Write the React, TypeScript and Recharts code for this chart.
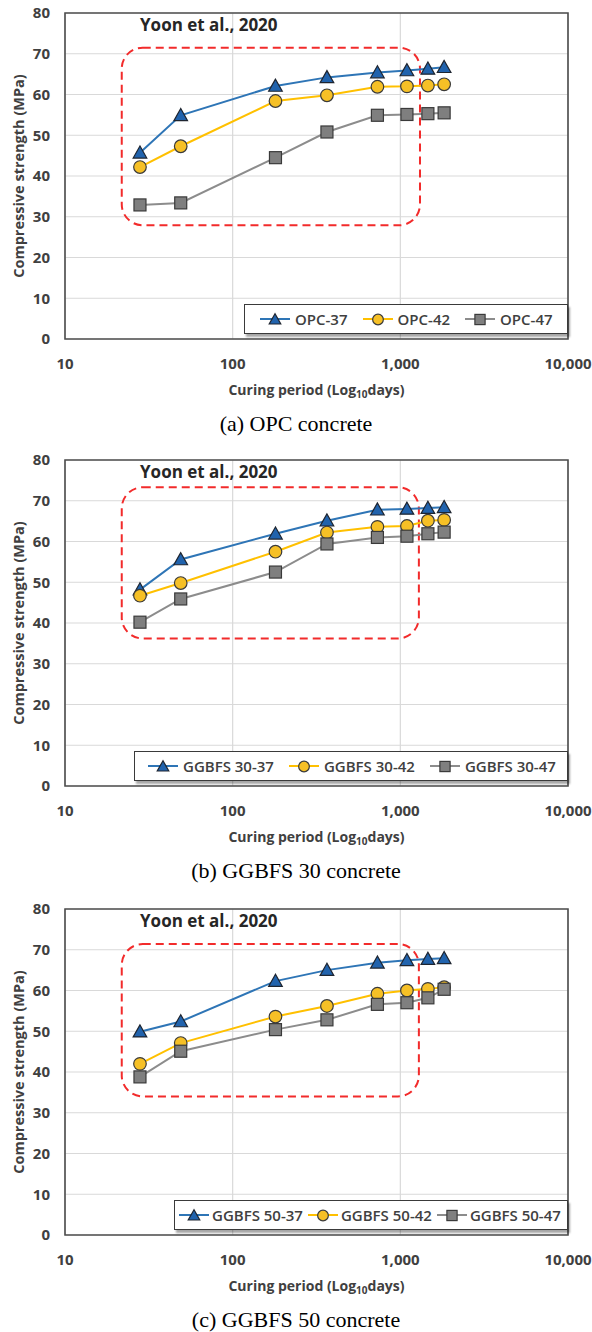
import { LineChart, Line, XAxis, YAxis, CartesianGrid, ReferenceArea, Legend } from 'recharts'

const DAYS = [28, 49, 180, 365, 730, 1095, 1460, 1825]
const X_TICKS = [10, 100, 1000, 10000]
const Y_TICKS = [0, 10, 20, 30, 40, 50, 60, 70, 80]

const OPC_37 = [45.7, 54.9, 62.1, 64.2, 65.4, 65.9, 66.3, 66.7]
const OPC_42 = [42.2, 47.3, 58.4, 59.8, 61.9, 62.0, 62.2, 62.5]
const OPC_47 = [32.9, 33.4, 44.5, 50.8, 54.9, 55.1, 55.3, 55.5]

const G30_37 = [48.2, 55.6, 61.9, 65.1, 67.8, 68.0, 68.2, 68.4]
const G30_42 = [46.7, 49.8, 57.5, 62.2, 63.6, 63.8, 65.1, 65.3]
const G30_47 = [40.2, 45.9, 52.5, 59.4, 61.0, 61.3, 61.9, 62.3]

const G50_37 = [49.9, 52.4, 62.3, 65.0, 66.8, 67.4, 67.7, 67.9]
const G50_42 = [42.0, 47.1, 53.6, 56.2, 59.2, 60.0, 60.4, 60.8]
const G50_47 = [38.8, 45.1, 50.4, 52.8, 56.6, 57.0, 58.2, 60.3]

const NAMES_A = ['OPC-37', 'OPC-42', 'OPC-47']
const NAMES_B = ['GGBFS 30-37', 'GGBFS 30-42', 'GGBFS 30-47']
const NAMES_C = ['GGBFS 50-37', 'GGBFS 50-42', 'GGBFS 50-47']

// dashed highlight region (days, MPa)
const BOX_A = { x1: 21.8, x2: 1310, y1: 27.9, y2: 71.5 }
const BOX_B = { x1: 21.8, x2: 1290, y1: 36.2, y2: 73.3 }
const BOX_C = { x1: 21.8, x2: 1290, y1: 34.0, y2: 71.4 }

const SOURCE = 'Yoon et al., 2020'

const FONT = '"Open Sans", "Noto Sans", sans-serif'
const TXT = '#404040'

const build = (a: number[], b: number[], c: number[]) =>
  DAYS.map((d, i) => ({ day: d, s0: a[i], s1: b[i], s2: c[i] }))

const LINE_COLORS = ['#2E75B6', '#FFC000', '#8C8C8C']

function Marker({ kind, cx, cy, s = 1 }: { kind: number; cx: number; cy: number; s?: number }) {
  if (kind === 0) {
    const h = 6.8 * s
    return (
      <polygon
        points={`${cx},${cy - h} ${cx - h},${cy + h * 0.78} ${cx + h},${cy + h * 0.78}`}
        fill="#2163AD"
        stroke="#1E2530"
        strokeWidth={1.2}
      />
    )
  }
  if (kind === 1) {
    return <circle cx={cx} cy={cy} r={6.3 * s} fill="#F6C026" stroke="#3A3A3A" strokeWidth={1.2} />
  }
  const h = 6 * s
  return <rect x={cx - h} y={cy - h} width={h * 2} height={h * 2} fill="#7F7F7F" stroke="#3A3A3A" strokeWidth={1.2} />
}

const dotFor = (kind: number) => (p: any) => (
  <g key={`d${kind}-${p.index}`}>
    <Marker kind={kind} cx={p.cx} cy={p.cy} />
  </g>
)

interface LegendCfg {
  left: number
  width: number
  padLeft: number
  iconGap: number
  itemGap: number
}

function LegendBox({ names, cfg }: { names: string[]; cfg: LegendCfg }) {
  return (
    <div
      style={{
        boxSizing: 'border-box',
        width: cfg.width,
        height: 30,
        border: '1.5px solid #3a3a3a',
        background: '#fff',
        boxShadow: '2px 3px 2px rgba(0,0,0,0.35)',
        display: 'flex',
        alignItems: 'center',
        paddingLeft: cfg.padLeft,
        whiteSpace: 'nowrap',
        overflow: 'hidden',
        fontFamily: FONT,
        fontSize: 15,
        fontWeight: 600,
        color: TXT,
      }}
    >
      {names.map((n, i) => (
        <div key={n} style={{ display: 'flex', alignItems: 'center', marginRight: i < 2 ? cfg.itemGap : 0 }}>
          <svg width={30} height={16} style={{ marginRight: cfg.iconGap }}>
            <line x1={0} y1={8} x2={30} y2={8} stroke={LINE_COLORS[i]} strokeWidth={2} />
            <Marker kind={i} cx={15} cy={8.5} s={0.85} />
          </svg>
          <span>{n}</span>
        </div>
      ))}
    </div>
  )
}

const xTitle = (props: any) => {
  const vb = props.viewBox
  return (
    <text
      x={vb.x + vb.width / 2}
      y={vb.y + 56}
      textAnchor="middle"
      fontFamily={FONT}
      fontSize={14}
      fontWeight={700}
      fill={TXT}
    >
      Curing period (Log
      <tspan fontSize={10} dy={3}>10</tspan>
      <tspan dy={-3}>days)</tspan>
    </text>
  )
}

const yTitle = (props: any) => {
  const vb = props.viewBox
  const cx = 24
  const cy = vb.y + vb.height / 2
  return (
    <text
      x={cx}
      y={cy}
      transform={`rotate(-90, ${cx}, ${cy})`}
      textAnchor="middle"
      fontFamily={FONT}
      fontSize={14.5}
      fontWeight={700}
      fill={TXT}
    >
      Compressive strength (MPa)
    </text>
  )
}

function Panel({
  top,
  rows,
  names,
  box,
  caption,
  legend,
}: {
  top: number
  rows: any[]
  names: string[]
  box: { x1: number; x2: number; y1: number; y2: number }
  caption: string
  legend: LegendCfg
}) {
  return (
    <div style={{ position: 'absolute', top, left: 0, width: 592, height: 447 }}>
      <LineChart width={592} height={410} data={rows} margin={{ top: 13, right: 24, bottom: 0, left: 0 }}>
        <CartesianGrid stroke="#D9D9D9" strokeWidth={1.2} />
        <XAxis
          dataKey="day"
          type="number"
          scale="log"
          domain={[10, 10000]}
          ticks={X_TICKS}
          allowDataOverflow
          axisLine={false}
          tickLine={false}
          tickSize={0}
          tickMargin={19}
          height={71}
          tickFormatter={(v: number) => v.toLocaleString('en-US')}
          tick={{ fill: TXT, fontSize: 15, fontWeight: 700, fontFamily: FONT }}
          label={xTitle}
        />
        <YAxis
          type="number"
          domain={[0, 80]}
          ticks={Y_TICKS}
          width={65}
          axisLine={false}
          tickLine={false}
          tickSize={0}
          tickMargin={15}
          tick={{ fill: TXT, fontSize: 15, fontWeight: 700, fontFamily: FONT }}
          label={yTitle}
        />
        <ReferenceArea x1={10} x2={10000} y1={0} y2={80} fill="none" stroke="#4D4D4D" strokeWidth={1.6} />
        <ReferenceArea
          x1={box.x1}
          x2={box.x2}
          y1={box.y1}
          y2={box.y2}
          shape={(p: any) => (
            <rect
              x={p.x}
              y={p.y}
              width={p.width}
              height={p.height}
              rx={21}
              ry={21}
              fill="none"
              stroke="#F22B2B"
              strokeWidth={2}
              strokeDasharray="8 5"
            />
          )}
        />
        {['s0', 's1', 's2'].map((k, i) => (
          <Line
            key={k}
            dataKey={k}
            name={names[i]}
            stroke={LINE_COLORS[i]}
            strokeWidth={2}
            dot={dotFor(i)}
            activeDot={false}
            isAnimationActive={false}
          />
        ))}
        <Legend
          layout="vertical"
          align="center"
          verticalAlign="middle"
          wrapperStyle={{ left: legend.left, top: 304, width: legend.width, height: 30 }}
          content={() => <LegendBox names={names} cfg={legend} />}
        />
      </LineChart>
      <div
        style={{
          position: 'absolute',
          left: 140,
          top: 15,
          fontFamily: FONT,
          fontSize: 17,
          fontWeight: 700,
          lineHeight: '20px',
          color: '#262626',
          whiteSpace: 'nowrap',
        }}
      >
        {SOURCE}
      </div>
      <div
        style={{
          position: 'absolute',
          left: 0,
          top: 410,
          width: 592,
          textAlign: 'center',
          fontFamily: '"Liberation Serif", "Times New Roman", serif',
          fontSize: 22,
          lineHeight: '28px',
          color: '#000',
        }}
      >
        {caption}
      </div>
    </div>
  )
}

export default function App() {
  return (
    <div style={{ position: 'absolute', left: 0, top: 0, width: 592, height: 1332, background: '#fff' }}>
      <Panel
        top={0}
        rows={build(OPC_37, OPC_42, OPC_47)}
        names={NAMES_A}
        box={BOX_A}
        caption="(a) OPC concrete"
        legend={{ left: 244, width: 324, padLeft: 15, iconGap: 5, itemGap: 15 }}
      />
      <Panel
        top={447}
        rows={build(G30_37, G30_42, G30_47)}
        names={NAMES_B}
        box={BOX_B}
        caption="(b) GGBFS 30 concrete"
        legend={{ left: 134, width: 434, padLeft: 13, iconGap: 5, itemGap: 15 }}
      />
      <Panel
        top={896}
        rows={build(G50_37, G50_42, G50_47)}
        names={NAMES_C}
        box={BOX_C}
        caption="(c) GGBFS 50 concrete"
        legend={{ left: 174, width: 394, padLeft: 4, iconGap: 3, itemGap: 5 }}
      />
    </div>
  )
}
